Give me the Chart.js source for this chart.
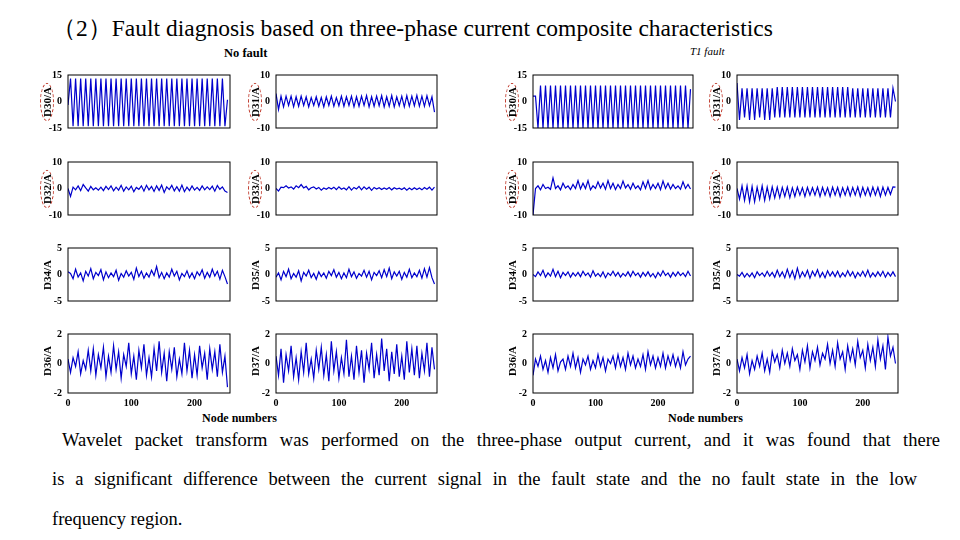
<!DOCTYPE html>
<html><head><meta charset="utf-8">
<script src="https://cdn.jsdelivr.net/npm/chart.js@4/dist/chart.umd.min.js"></script>
<style>
body{margin:0;width:960px;height:540px;background:#fff;position:relative;overflow:hidden;font-family:"Liberation Serif",serif;}
.t{position:absolute;white-space:nowrap;color:#000;}
.p{position:absolute;font-size:18.5px;text-align:justify;text-align-last:justify;white-space:nowrap;}
canvas{position:absolute;}
.yl{position:absolute;font:bold 11px "Liberation Serif";transform:translate(-50%,-50%) rotate(-90deg);white-space:nowrap;}
.el{border:1px dashed #c0392b;border-radius:50%;padding:0 3px;}
</style></head><body>
<div class="t" style="left:52px;top:12px;font-size:23.5px;">（2）Fault diagnosis based on three-phase current composite characteristics</div>
<div class="t" style="left:224px;top:46px;font-size:12.5px;font-weight:bold;">No fault</div>
<div class="t" style="left:690px;top:45px;font-size:11px;font-style:italic;">T1 fault</div>
<div class="t" style="left:202px;top:411px;font-size:12px;font-weight:bold;">Node numbers</div>
<div class="t" style="left:668px;top:411px;font-size:12px;font-weight:bold;">Node numbers</div>
<div class="p" style="left:62px;top:430px;width:878px;">Wavelet packet transform was performed on the three-phase output current, and it was found that there</div>
<div class="p" style="left:52px;top:469px;width:865px;">is a significant difference between the current signal in the fault state and the no fault state in the low</div>
<div class="t" style="left:52px;top:509px;font-size:18.5px;">frequency region.</div>
<script>
const labels=["D30/A","D31/A","D32/A","D33/A","D34/A","D35/A","D36/A","D37/A"];
const limits=[15,10,10,10,5,5,2,2];
const xTicks=[0,100,200];
const nf30=[-2,13,-14,13,-14,13,-14,13,-14,13,-14,13,-14,13,-14,13,-14,13,-14,13,-14,13,-14,13,-14,13,-14,13,-14,13,-14,13,-14,13,-14,13,-14,13,-14,13,-14,13,-14,13,-14,13,-14,13,-14,13,-14,13,-14,13,-14,13,-14,13,-14,13,-14,13,-14,1];
const nf31=[3,-3,2,-2,2,-1.5,2,-2,1.8,-1.8,2,-1.5,1.8,-2,1.5,-1.5,1.8,-1.8,1.5,-2,1.8,-1.5,2,-1.8,1.5,-1.6,2,-1.8,1.8,-1.5,2,-2,1.8,-1.8,2,-1.5,2.2,-2,1.8,-1.8,2,-1.6,2.2,-2,1.8,-1.8,2.3,-2,1.8,-1.6,2,-2,2.2,-1.8,2,-1.6,2.3,-1.8,2,-1.8,2.2,-1.6,1.8,-4];
const nf32=[0,-3,0.5,-0.5,1,-0.8,1.5,0.2,-1,0.8,-0.5,0.3,-0.6,0.5,-0.8,0.8,-0.4,1,-0.9,0.5,-0.6,1.2,-1,0.6,-0.5,0.9,-1.2,0.4,-0.3,1,-1,1.2,-0.5,0.8,-1.1,1,-0.7,1.3,-1.5,0.6,-0.4,1.2,-0.9,0.7,-1,1.3,-1.2,0.5,-0.8,1,-0.6,0.4,-0.7,1,-0.5,0.6,-0.4,0.9,-1,1.1,-0.3,0.6,-1,-1.5];
const nf33=[0,-1,0.5,0.3,1,0.2,0.6,-0.2,1,0.3,1.5,0.2,0.8,-0.5,0.3,0.6,-0.2,0.4,-0.6,0.2,-0.3,0.4,-0.2,0.5,-0.4,0.6,-0.3,0.2,-0.5,0.7,-0.6,0.4,-0.2,0.8,-0.5,0.6,-0.3,0.5,-0.7,0.4,-0.2,0.3,-0.4,0.2,-0.3,0.4,-0.5,0.3,-0.2,0.1,-0.4,0.3,-0.6,0.2,-0.5,0.3,-0.4,0.2,-0.5,0.4,-0.3,0.5,-0.6,0.5];
const nf34=[0.5,0.2,-0.8,1,-0.5,0.3,-1.2,0.6,-0.3,1.1,-0.8,0.4,-0.2,0.9,-1,0.5,-0.6,0.3,-0.4,0.8,-1.1,0.2,-0.5,0.7,-0.3,0.4,-0.9,1.2,-0.4,0.6,-0.7,0.3,-0.5,0.8,-0.2,1.5,-0.6,0.4,-0.8,0.3,-0.5,1,-0.3,0.6,-1,0.2,-0.4,0.7,-0.6,0.3,-0.8,0.5,-0.2,0.9,-0.7,0.4,-0.5,1,-0.3,0.6,-0.9,0.8,-0.4,-1.8];
const nf35=[-0.5,0.3,-1,0.6,-0.4,1,-0.8,0.2,-0.5,0.7,-1.2,0.4,-0.3,0.8,-0.6,0.2,-0.9,0.5,-0.4,0.3,-0.7,0.6,-0.2,0.9,-0.5,0.4,-0.8,0.3,-0.6,1,-0.4,0.5,-0.7,0.2,-0.3,0.8,-0.5,0.6,-1,0.4,-0.2,0.7,-0.6,0.9,-0.4,1.2,-0.8,0.5,-0.3,0.6,-0.9,0.4,-0.5,1,-0.6,0.3,-0.4,0.8,-0.7,1.1,-0.5,1.3,-0.6,-1.8];
const nf36=[0.3,-0.6,0.4,-0.2,0.8,-0.7,0.2,-0.4,0.9,-0.5,1,-0.8,0.6,-0.3,1.1,-0.9,0.5,-0.6,1.2,-0.4,0.8,-1,0.6,-0.2,1.4,-0.7,0.5,-1.1,0.9,-0.3,1.3,-0.8,0.4,-0.9,1,-0.5,1.5,-0.6,0.7,-1.2,0.8,-0.4,1.1,-0.9,0.3,-0.7,1.4,-0.5,0.9,-1,0.6,-0.8,1.2,-0.3,0.7,-1.1,1,-0.4,0.8,-0.9,1.3,-0.6,0.5,-1.6];
const nf37=[0.5,-0.8,1,-1.3,0.6,-0.5,1.2,-0.9,0.4,-1.1,0.8,-0.6,1.4,-0.7,0.3,-1,0.9,-0.4,1.1,-0.8,0.6,-1.2,1.5,-0.5,0.8,-1,0.4,-0.7,1.6,-0.9,0.5,-1.1,1.2,-0.6,0.9,-1.3,0.7,-0.4,1.4,-1,0.6,-0.8,1.7,-0.5,1,-1.2,0.8,-0.7,1.3,-0.9,0.5,-1.1,1.5,-0.6,1,-0.8,1.2,-1,0.7,-0.5,1.4,-0.9,1.1,-0.4];
const f30=[3,3,-15,9,-15,9,-15,9,-15,9,-15,9,-15,9,-15,9,-15,9,-15,9,-15,9,-15,9,-15,9,-15,9,-15,9,-15,9,-15,9,-15,9,-15,9,-15,9,-15,9,-15,9,-15,9,-15,9,-15,9,-15,9,-15,9,-15,9,-15,9,-15,9,-15,9,-15,7];
const f31=[7,-7,5,-6,5,-7,5,-7,5,-6,5,-7,5,-7,5,-6,5.5,-6,5.5,-6,5.5,-6,5.5,-6,5.5,-6,5.5,-6,5.5,-6,5.5,-6,5.5,-6,5.5,-6,5.5,-6,5.5,-6,5.5,-6,5.5,-6,5.5,-6,5,-6,5,-6,5,-6,5,-6,5,-6,5,-6,5,-6,5,-6,5,0];
const f32=[-10,0,1,-0.5,1.5,0,0.5,-0.3,4,0,1,-0.5,2,0.2,1,-0.4,1.5,0,3,-0.2,2,0,3,-0.5,1,0,2.5,0.2,2,-0.3,3,0,2,-0.4,1.5,0,2.8,0.2,1.5,-0.3,2,0,1,-0.5,2.5,0,3,-0.3,1.5,0,2,-0.4,2.8,0,2,-0.2,1.5,0,1,-0.3,2.5,0,1.5,-0.2];
const f33=[0,-4,1,-4.5,1,-5,0.8,-5,0.5,-4,1,-4.5,0.5,-4,0.6,-3.5,0.5,-3.5,0.4,-3,0.6,-3.5,0.3,-3,0.5,-2.5,0.3,-3,0.4,-2.5,0.3,-2.5,0.5,-3,0.4,-2.5,0.3,-3,0.5,-2.5,0.4,-3,0.3,-2.5,0.5,-2.8,0.4,-2.5,0.6,-3,0.4,-2.5,0.3,-2.8,0.5,-2.5,0.4,-3,0.5,-2.5,0.4,-2.2,0.6,0.5];
const f34=[0,-0.4,0.5,-0.2,0.8,-0.5,0.3,-0.3,1,-0.4,0.6,-0.6,0.4,-0.2,0.5,-0.5,0.3,-0.3,0.4,-0.4,0.6,-0.2,0.3,-0.5,0.7,-0.3,0.2,-0.4,0.5,-0.6,0.3,-0.2,0.6,-0.3,0.4,-0.5,0.2,-0.3,0.5,-0.4,0.6,-0.2,0.3,-0.5,0.4,-0.3,0.5,-0.4,0.2,-0.6,0.4,-0.3,0.7,-0.2,0.3,-0.5,0.4,-0.3,0.5,-0.2,0.3,-0.4,0.6,-0.3];
const f35=[0,-0.3,0.4,-0.5,0.2,-0.4,0.3,-0.6,0.5,-0.2,0.3,-0.4,0.6,-0.3,0.4,-0.5,0.8,-0.4,0.5,-0.6,1,-0.5,0.7,-0.8,1.2,-0.6,0.5,-0.4,0.8,-0.7,0.6,-0.3,0.9,-0.5,0.4,-0.6,0.7,-0.3,0.5,-0.4,0.6,-0.5,0.3,-0.4,0.7,-0.3,0.5,-0.6,0.4,-0.3,0.6,-0.4,0.8,-0.5,0.3,-0.4,0.5,-0.3,0.6,-0.5,0.4,-0.3,0.5,-0.4];
const f36=[-0.8,0.3,-0.2,0.5,-0.4,0.2,-0.6,0.4,-0.3,0.6,-0.5,0.1,0.3,-0.4,0.5,-0.2,0.7,-0.3,0.4,-0.6,0.3,-0.1,0.5,-0.4,0.2,-0.3,0.6,-0.2,0.4,-0.5,0.3,0,0.5,-0.3,0.6,-0.2,0.4,-0.4,0.7,-0.1,0.5,-0.3,0.3,-0.2,0.6,-0.4,0.8,-0.1,0.5,-0.3,0.4,-0.2,0.7,-0.3,0.5,-0.1,0.6,-0.2,0.4,-0.3,0.8,-0.1,0.3,0.5];
const f37=[0.3,-0.5,0.4,-0.3,0.6,-0.7,0.2,-0.4,0.5,-0.2,0.7,-0.5,0.3,-0.6,0.8,0.1,0.6,-0.3,0.9,0,0.7,-0.2,1,0.2,0.6,-0.4,0.9,0.1,1.2,-0.3,0.8,0.2,1.1,-0.1,0.7,0.3,1.3,0,0.9,-0.2,1.4,0.3,0.8,-0.4,1.2,0.2,1,-0.1,1.5,0.4,0.9,-0.3,1.3,0.2,1.1,-0.2,1.6,0.3,1.2,-0.4,1.8,0.5,1.1,0];
const noFault=[nf30,nf31,nf32,nf33,nf34,nf35,nf36,nf37];
const t1Fault=[f30,f31,f32,f33,f34,f35,f36,f37];

const colX=[[68,276],[533,737]], colW=[[162,161],[160,161]];
const rowY=[69,156,242,328], rowH=65;
const border={id:'b',afterDraw(c){const a=c.chartArea,x=c.ctx;x.save();x.strokeStyle='#000';x.lineWidth=1;x.strokeRect(a.left,a.top,a.width,a.height);x.restore();}};
function make(group,k,series){
  const col=k%2,row=Math.floor(k/2);
  const L=colX[group][col],W=colW[group][col],T=rowY[row];
  const bottom=row===3;
  const cv=document.createElement('canvas');
  const cw=W+36,ch=rowH+12+(bottom?16:0);
  cv.width=cw;cv.height=ch;cv.style.left=(L-30)+'px';cv.style.top=(T-6)+'px';
  cv.style.width=cw+'px';cv.style.height=ch+'px';
  document.body.appendChild(cv);
  const lim=limits[k];
  new Chart(cv,{type:'line',
    data:{datasets:[{data:series.map((v,i)=>({x:i*4,y:v})),borderColor:'#0000cc',borderWidth:1.2,pointRadius:0,tension:0}]},
    options:{responsive:false,animation:false,clip:true,
      layout:{padding:{left:0,top:6,right:6,bottom:0}},
      plugins:{legend:{display:false},tooltip:{enabled:false}},
      scales:{
        x:{type:'linear',min:0,max:256,afterBuildTicks:a=>{a.ticks=xTicks.map(v=>({value:v}));},
           grid:{display:false,drawTicks:false},border:{display:false},
           ticks:{display:bottom,padding:4,font:{family:'Liberation Serif',size:10,weight:'bold'},color:'#000'},
           afterFit:a=>{a.height=bottom?22:6;}},
        y:{min:-lim,max:lim,afterBuildTicks:a=>{a.ticks=[-lim,0,lim].map(v=>({value:v}));},
           grid:{display:false,drawTicks:false},border:{display:false},
           ticks:{padding:6,font:{family:'Liberation Serif',size:10,weight:'bold'},color:'#000'},
           afterFit:a=>{a.width=30;}}}},
    plugins:[border]});
  const d=document.createElement('div');
  d.className='yl';d.style.left=(L-21)+'px';d.style.top=(T+rowH/2)+'px';
  d.innerHTML=k<4?'<span class="el">'+labels[k]+'</span>':labels[k];
  document.body.appendChild(d);
}
for(let k=0;k<8;k++){make(0,k,noFault[k]);make(1,k,t1Fault[k]);}
</script>
</body></html>
